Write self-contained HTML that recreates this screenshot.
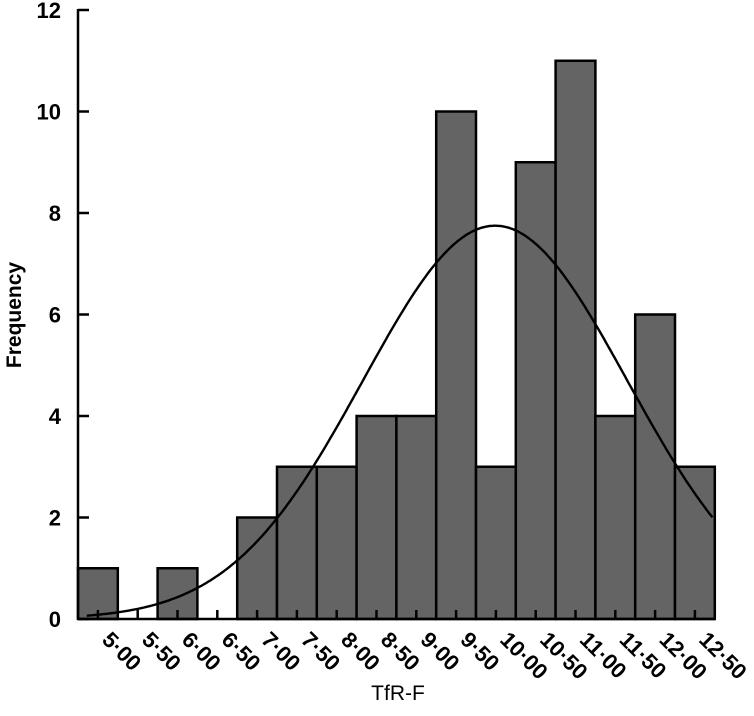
<!DOCTYPE html>
<html><head><meta charset="utf-8"><style>
body{margin:0;background:#fff;width:754px;height:716px;overflow:hidden}
svg{display:block;font-family:"Liberation Sans",Arial,sans-serif}
</style></head><body>
<svg id="chart" width="754" height="716"></svg>
<script>
const categories=["5·00","5·50","6·00","6·50","7·00","7·50","8·00","8·50","9·00","9·50","10·00","10·50","11·00","11·50","12·00","12·50"];
const binValues=[5.0,5.5,6.0,6.5,7.0,7.5,8.0,8.5,9.0,9.5,10.0,10.5,11.0,11.5,12.0,12.5];
const counts=[1,0,1,0,2,3,3,4,4,10,3,9,11,4,6,3];
const yTicks=[0,2,4,6,8,10,12];
const curveMean=[9.99];
const curveSd=[1.66];
const curvePeak=[7.75];
const NS="http://www.w3.org/2000/svg";
const svg=document.getElementById('chart');
const x0=78,bw=39.8,y0=619,yU=50.75;
function xPos(v){return x0+(v-binValues[0])/0.5*bw+bw/2;}
function yPos(v){return y0-v*yU;}
function mk(t,a){const e=document.createElementNS(NS,t);for(const k in a)e.setAttribute(k,a[k]);svg.appendChild(e);return e;}
counts.forEach((c,i)=>{
 if(c<=0)return;
 const r=mk('rect',{x:xPos(binValues[i])-bw/2,y:yPos(c),width:bw,height:c*yU,fill:'#646464',stroke:'#000','stroke-width':2.5});
 
 
});
let d='';
for(let v=4.86;v<=12.72;v+=0.02){
 const val=curvePeak[0]*Math.exp(-Math.pow(v-curveMean[0],2)/(2*curveSd[0]*curveSd[0]));
 d+=(d?'L':'M')+xPos(v).toFixed(1)+','+yPos(val).toFixed(1);
}
const cv=mk('path',{d:d,fill:'none',stroke:'#000','stroke-width':2.4});


const ya=mk('line',{x1:x0,y1:yPos(12)-1,x2:x0,y2:y0,stroke:'#000','stroke-width':2.5});


const xa=mk('line',{x1:x0,y1:y0,x2:715,y2:y0,stroke:'#000','stroke-width':2.5});


yTicks.forEach(t=>{
 const l=mk('line',{x1:x0,y1:yPos(t),x2:x0+11,y2:yPos(t),stroke:'#000','stroke-width':2.5});
 
 
 const tx=mk('text',{x:61,y:yPos(t)+8,'text-anchor':'end','font-size':22,'font-weight':'bold'});
 tx.textContent=t;
 
 
});
binValues.forEach((v,i)=>{
 const x=xPos(v);
 const l=mk('line',{x1:x,y1:y0,x2:x,y2:y0-9,stroke:'#000','stroke-width':2.5});
 
 
 const tx=mk('text',{x:0,y:0,'font-size':22,'font-weight':'bold',transform:`translate(${x+3},${y0+22}) rotate(45)`});
 tx.textContent=categories[i];
 
 
});
const yt=mk('text',{x:0,y:0,'font-size':21,'font-weight':'bold','text-anchor':'middle',transform:'translate(21,315) rotate(-90)'});
yt.textContent='Frequency';


const xt=mk('text',{x:398,y:700,'font-size':21,'text-anchor':'middle'});
xt.textContent='TfR-F';


</script>
</body></html>
